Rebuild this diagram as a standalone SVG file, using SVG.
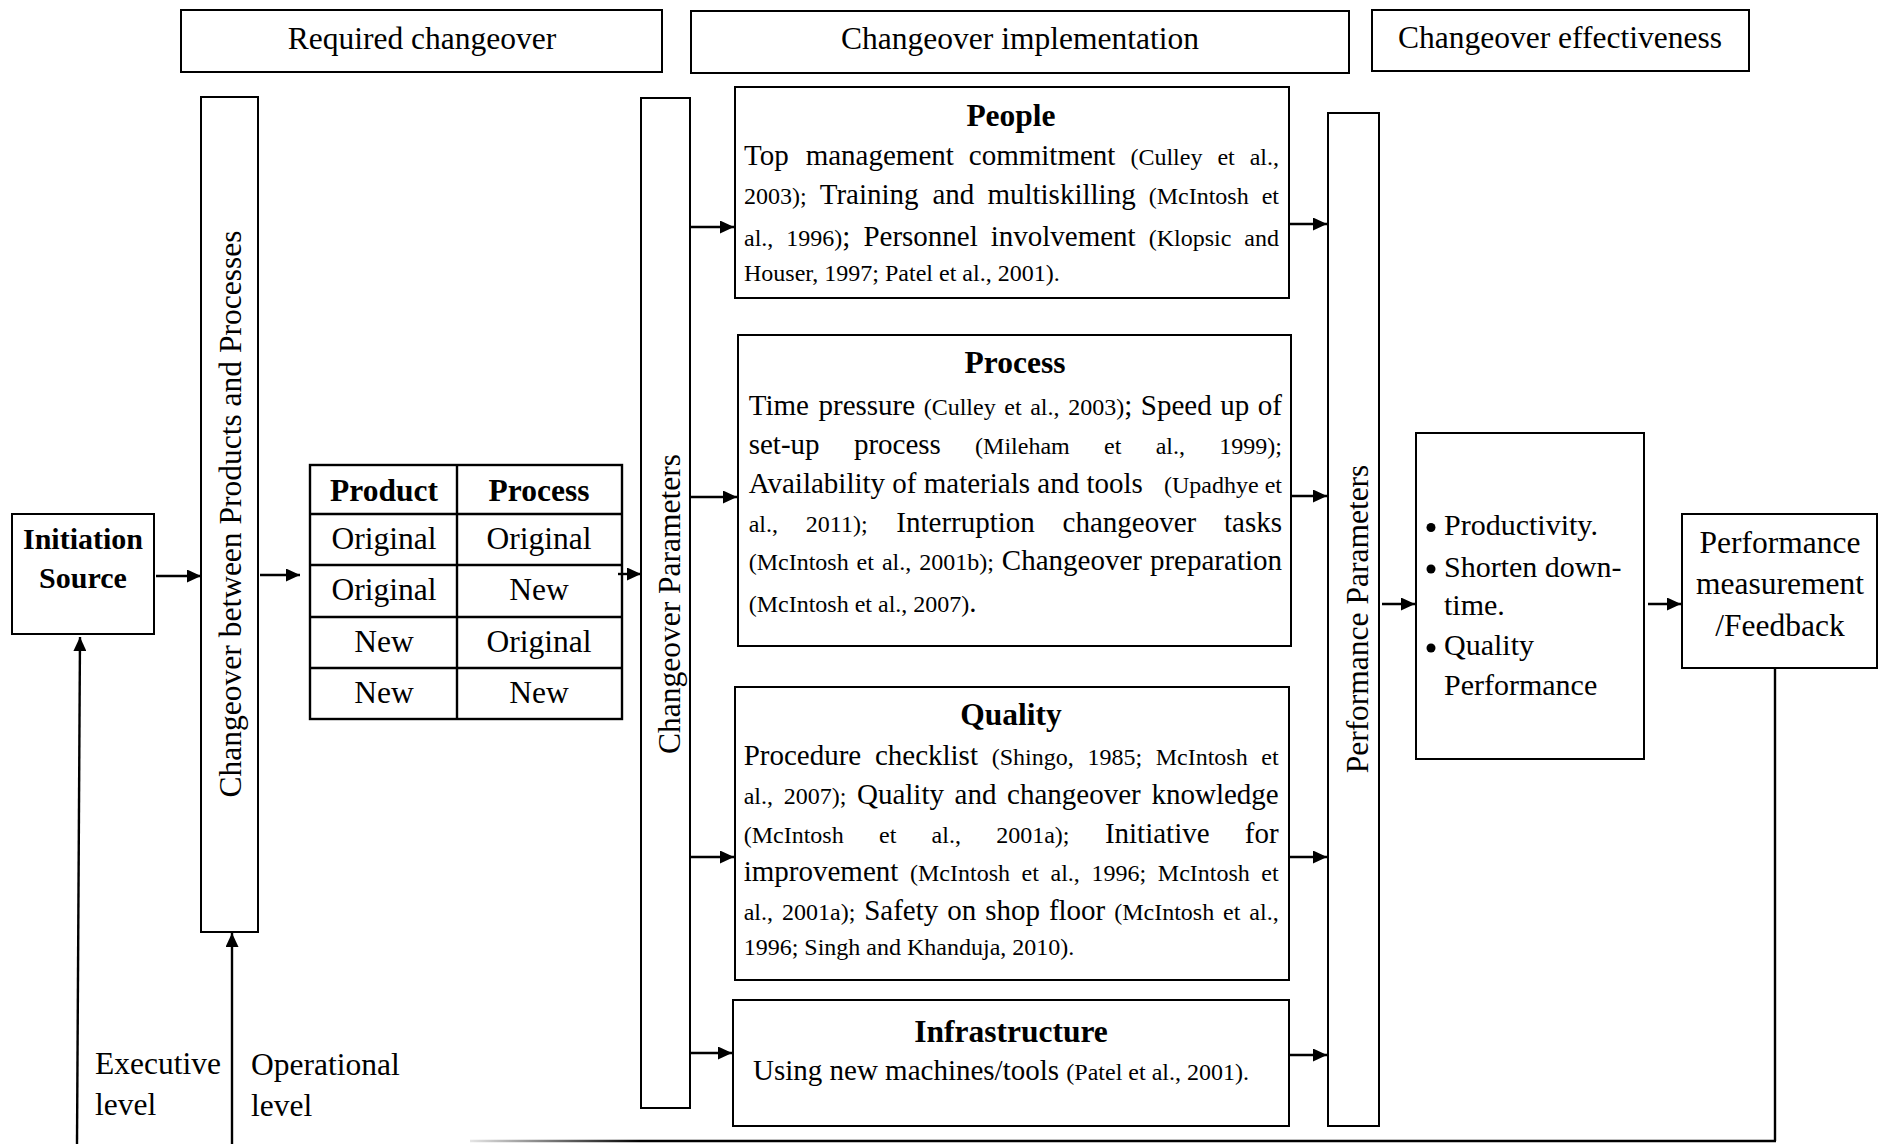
<svg xmlns="http://www.w3.org/2000/svg" width="1879" height="1144" viewBox="0 0 1879 1144">
  <style>
    .box { fill: #fff; stroke: #000; stroke-width: 2; }
    .grid { fill: none; stroke: #000; stroke-width: 2.4; }
    .link { fill: none; stroke: #000; stroke-width: 2.4; }
    text { font-family: "Liberation Serif", "Times New Roman", serif; fill: #000; }
    .h { font-size: 31.5px; text-anchor: middle; }
    .t { font-size: 31.5px; font-weight: bold; text-anchor: middle; }
    .b { font-size: 30px; font-weight: bold; text-anchor: middle; }
    .cell { font-size: 31.5px; text-anchor: middle; }
    .m { font-size: 29px; }
    .c { font-size: 24px; }
    .e { text-anchor: end; }
    .v { font-size: 31.5px; text-anchor: middle; }
    .lv { font-size: 31.5px; }
    .bl { font-size: 30px; }
  </style>
  <defs>
    <marker id="arrow" markerUnits="userSpaceOnUse" markerWidth="15" markerHeight="13" refX="14" refY="6.5" orient="auto">
      <path d="M0,0 L14,6.5 L0,13 z" fill="#000"/>
    </marker>
    <linearGradient id="fade" gradientUnits="userSpaceOnUse" x1="470" y1="0" x2="640" y2="0">
      <stop offset="0" stop-color="#000" stop-opacity="0.1"/>
      <stop offset="1" stop-color="#000" stop-opacity="1"/>
    </linearGradient>
  </defs>
  <rect width="1879" height="1144" fill="#fff"/>

  <!-- column headers -->
  <g id="hdr-required">
    <rect class="box" x="181" y="10" width="481" height="62"/>
    <text class="h" x="422" y="49">Required changeover</text>
  </g>
  <g id="hdr-implementation">
    <rect class="box" x="691" y="11" width="658" height="62"/>
    <text class="h" x="1020" y="49">Changeover implementation</text>
  </g>
  <g id="hdr-effectiveness">
    <rect class="box" x="1372" y="10" width="377" height="61"/>
    <text class="h" x="1560" y="48">Changeover effectiveness</text>
  </g>

  <!-- initiation source -->
  <g id="initiation">
    <rect class="box" x="12" y="514" width="142" height="120"/>
    <text class="b" x="83" y="549">Initiation</text>
    <text class="b" x="83" y="588">Source</text>
  </g>

  <!-- vertical bar: changeover between products and processes -->
  <g id="changeover-bar">
    <rect class="box" x="201" y="97" width="57" height="835"/>
    <text class="v" transform="translate(241,514) rotate(-90)">Changeover between Products and Processes</text>
  </g>

  <!-- product / process matrix -->
  <g id="matrix">
    <rect class="grid" x="310" y="465" width="312" height="254"/>
    <path class="grid" d="M457,465 V719 M310,514 H622 M310,565 H622 M310,617 H622 M310,668 H622"/>
    <text class="t" x="384" y="501">Product</text>
    <text class="t" x="539" y="501">Process</text>
    <text class="cell" x="384" y="549">Original</text>
    <text class="cell" x="539" y="549">Original</text>
    <text class="cell" x="384" y="600">Original</text>
    <text class="cell" x="539" y="600">New</text>
    <text class="cell" x="384" y="652">New</text>
    <text class="cell" x="539" y="652">Original</text>
    <text class="cell" x="384" y="703">New</text>
    <text class="cell" x="539" y="703">New</text>
  </g>

  <!-- vertical bar: changeover parameters -->
  <g id="changeover-parameters">
    <rect class="box" x="641" y="98" width="49" height="1010"/>
    <text class="v" transform="translate(680,604) rotate(-90)">Changeover Parameters</text>
  </g>

  <!-- people (justified lines, words placed individually) -->
  <g id="people">
    <rect class="box" x="735" y="87" width="554" height="211"/>
    <text class="t" x="1011" y="126">People</text>
    <text class="m" y="165"><tspan x="744">Top</tspan><tspan x="805.7">management</tspan><tspan x="968.8">commitment</tspan><tspan class="c" x="1130.4">(Culley</tspan><tspan class="c" x="1217.4">et</tspan></text>
    <text class="c e" x="1279" y="165">al.,</text>
    <text class="m" y="204"><tspan class="c" x="744">2003);</tspan><tspan x="819.7">Training</tspan><tspan x="932.5">and</tspan><tspan x="987.4">multiskilling</tspan><tspan class="c" x="1148.7">(McIntosh</tspan></text>
    <text class="c e" x="1279" y="204">et</text>
    <text class="m" y="246"><tspan class="c" x="744">al.,</tspan><tspan class="c" x="786.3">1996)</tspan>;<tspan x="863.4">Personnel</tspan><tspan x="990.7">involvement</tspan><tspan class="c" x="1148.7">(Klopsic</tspan></text>
    <text class="c e" x="1279" y="246">and</text>
    <text class="c" x="744" y="281">Houser, 1997; Patel et al., 2001).</text>
  </g>

  <!-- process -->
  <g id="process">
    <rect class="box" x="738" y="335" width="553" height="311"/>
    <text class="t" x="1015" y="373">Process</text>
    <text class="m" y="415"><tspan x="748.7">Time</tspan><tspan x="818.5">pressure</tspan><tspan class="c" x="923.7">(Culley</tspan><tspan class="c" x="1004.3">et</tspan><tspan class="c" x="1030.2">al.,</tspan><tspan class="c" x="1068.2">2003)</tspan>;<tspan x="1140.8">Speed</tspan><tspan x="1220.3">up</tspan></text>
    <text class="m e" x="1282" y="415">of</text>
    <text class="m" y="454"><tspan x="748.7">set-up</tspan><tspan x="853.9">process</tspan><tspan class="c" x="975.1">(Mileham</tspan><tspan class="c" x="1104.1">et</tspan><tspan class="c" x="1155.7">al.,</tspan></text>
    <text class="c e" x="1282" y="454">1999);</text>
    <text class="m" x="748.7" y="493">Availability of materials and tools</text>
    <text class="c e" x="1282" y="493">(Upadhye et</text>
    <text class="m" y="532"><tspan class="c" x="748.7">al.,</tspan><tspan class="c" x="805.8">2011);</tspan><tspan x="896.3">Interruption</tspan><tspan x="1062.6">changeover</tspan></text>
    <text class="m e" x="1282" y="532">tasks</text>
    <text class="m" y="570"><tspan class="c" x="748.7">(McIntosh</tspan><tspan class="c" x="856.6">et</tspan><tspan class="c" x="881.9">al.,</tspan><tspan class="c" x="919.2">2001b);</tspan><tspan x="1001.8">Changeover</tspan></text>
    <text class="m e" x="1282" y="570">preparation</text>
    <text class="m" x="748.7" y="612"><tspan class="c">(McIntosh et al., 2007)</tspan>.</text>
  </g>

  <!-- quality -->
  <g id="quality">
    <rect class="box" x="735" y="687" width="554" height="293"/>
    <text class="t" x="1011" y="725">Quality</text>
    <text class="m" y="765"><tspan x="743.7">Procedure</tspan><tspan x="874.9">checklist</tspan><tspan class="c" x="991.7">(Shingo,</tspan><tspan class="c" x="1087.4">1985;</tspan><tspan class="c" x="1155.7">McIntosh</tspan></text>
    <text class="c e" x="1278.7" y="765">et</text>
    <text class="m" y="804"><tspan class="c" x="743.7">al.,</tspan><tspan class="c" x="783.7">2007);</tspan><tspan x="857">Quality</tspan><tspan x="954.6">and</tspan><tspan x="1007.1">changeover</tspan></text>
    <text class="m e" x="1278.7" y="804">knowledge</text>
    <text class="c" y="843"><tspan x="743.7">(McIntosh</tspan><tspan x="879">et</tspan><tspan x="931.6">al.,</tspan><tspan x="996.2">2001a);</tspan><tspan class="m" x="1104.9">Initiative</tspan></text>
    <text class="m e" x="1278.7" y="843">for</text>
    <text class="m" y="881"><tspan x="743.7">improvement</tspan><tspan class="c" x="910">(McIntosh</tspan><tspan class="c" x="1021.6">et</tspan><tspan class="c" x="1050.5">al.,</tspan><tspan class="c" x="1091.5">1996;</tspan><tspan class="c" x="1157.8">McIntosh</tspan></text>
    <text class="c e" x="1278.7" y="881">et</text>
    <text class="m" y="920"><tspan class="c" x="743.7">al.,</tspan><tspan class="c" x="782">2001a);</tspan><tspan x="864.2">Safety</tspan><tspan x="947.2">on</tspan><tspan x="985.2">shop</tspan><tspan x="1048.9">floor</tspan><tspan class="c" x="1114.2">(McIntosh</tspan><tspan class="c" x="1223.1">et</tspan></text>
    <text class="c e" x="1278.7" y="920">al.,</text>
    <text class="c" x="743.7" y="955">1996; Singh and Khanduja, 2010).</text>
  </g>

  <!-- infrastructure -->
  <g id="infrastructure">
    <rect class="box" x="733" y="1000" width="556" height="126"/>
    <text class="t" x="1011" y="1042">Infrastructure</text>
    <text class="m" x="753" y="1080">Using new machines/tools <tspan class="c">(Patel et al., 2001).</tspan></text>
  </g>

  <!-- vertical bar: performance parameters -->
  <g id="performance-parameters">
    <rect class="box" x="1328" y="113" width="51" height="1013"/>
    <text class="v" transform="translate(1368,619) rotate(-90)">Performance Parameters</text>
  </g>

  <!-- effectiveness outcomes -->
  <g id="outcomes">
    <rect class="box" x="1416" y="433" width="228" height="326"/>
    <circle cx="1431" cy="527.5" r="4.5"/>
    <circle cx="1431" cy="569" r="4.5"/>
    <circle cx="1431" cy="648" r="4.5"/>
    <text class="bl" x="1444" y="535">Productivity.</text>
    <text class="bl" x="1444" y="577">Shorten down-</text>
    <text class="bl" x="1444" y="615">time.</text>
    <text class="bl" x="1444" y="655">Quality</text>
    <text class="bl" x="1444" y="695">Performance</text>
  </g>

  <!-- feedback -->
  <g id="feedback">
    <rect class="box" x="1682" y="514" width="195" height="154"/>
    <text class="h" x="1780" y="553">Performance</text>
    <text class="h" x="1780" y="594">measurement</text>
    <text class="h" x="1780" y="636">/Feedback</text>
  </g>

  <!-- level labels -->
  <g id="levels">
    <text class="lv" x="95" y="1074">Executive</text>
    <text class="lv" x="95" y="1115">level</text>
    <text class="lv" x="251" y="1075">Operational</text>
    <text class="lv" x="251" y="1116">level</text>
  </g>

  <!-- connectors -->
  <g id="connectors">
    <path class="link" marker-end="url(#arrow)" d="M156,576 H201"/>
    <path class="link" marker-end="url(#arrow)" d="M260,575 H300"/>
    <path class="link" marker-end="url(#arrow)" d="M618,574 H641"/>
    <path class="link" marker-end="url(#arrow)" d="M690,227 H734"/>
    <path class="link" marker-end="url(#arrow)" d="M690,497 H737"/>
    <path class="link" marker-end="url(#arrow)" d="M690,857 H734"/>
    <path class="link" marker-end="url(#arrow)" d="M690,1053 H732"/>
    <path class="link" marker-end="url(#arrow)" d="M1290,224 H1327"/>
    <path class="link" marker-end="url(#arrow)" d="M1292,496 H1327"/>
    <path class="link" marker-end="url(#arrow)" d="M1290,857 H1327"/>
    <path class="link" marker-end="url(#arrow)" d="M1290,1055 H1327"/>
    <path class="link" marker-end="url(#arrow)" d="M1382,604 H1415"/>
    <path class="link" marker-end="url(#arrow)" d="M1648,604 H1681"/>
    <path class="link" marker-end="url(#arrow)" d="M77,1144 L80,637"/>
    <path class="link" marker-end="url(#arrow)" d="M232,1144 V933"/>
    <path class="link" d="M1775,668 V1141"/>
    <path fill="none" stroke="url(#fade)" stroke-width="2.4" d="M1776,1141 H470"/>
  </g>
</svg>
